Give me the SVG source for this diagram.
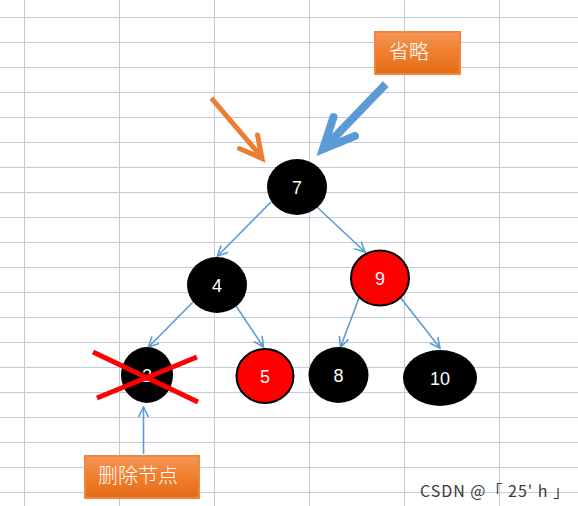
<svg xmlns="http://www.w3.org/2000/svg" width="578" height="506" viewBox="0 0 578 506">
<style>
.grid line{stroke:#c3cadb;stroke-width:1}
.lbl{font-family:"Liberation Sans",Carlito,"DejaVu Sans",sans-serif;font-size:18px;fill:#ffffff;text-anchor:middle}
.cjk{font-family:"Noto Sans CJK SC","Liberation Sans",sans-serif;font-size:20px;font-weight:300;fill:#ffffff}
.blk{fill:#000000}
.red{fill:#ff0000;stroke:#000000;stroke-width:2}
.conn line{stroke:#5b9bd5;stroke-width:1.6;fill:none;marker-end:url(#ah)}
.box{fill:url(#og);stroke:#f0853d;stroke-width:2}
</style>
<defs>
<marker id="ah" viewBox="0 0 12 12" refX="10.5" refY="6" markerWidth="12" markerHeight="12" markerUnits="userSpaceOnUse" orient="auto">
<path d="M0.5,1 L10.5,6 L0.5,11" fill="none" stroke="#5b9bd5" stroke-width="1.6"/>
</marker>
<linearGradient id="og" x1="0" y1="0" x2="0" y2="1">
<stop offset="0" stop-color="#f39558"/>
<stop offset="0.5" stop-color="#f07e2c"/>
<stop offset="1" stop-color="#e56b17"/>
</linearGradient>
</defs>
<rect width="578" height="506" fill="#ffffff"/>
<g class="grid">
<line x1="0" y1="17.5" x2="578" y2="17.5"/>
<line x1="0" y1="42.5" x2="578" y2="42.5"/>
<line x1="0" y1="67.5" x2="578" y2="67.5"/>
<line x1="0" y1="92.5" x2="578" y2="92.5"/>
<line x1="0" y1="117.5" x2="578" y2="117.5"/>
<line x1="0" y1="142.5" x2="578" y2="142.5"/>
<line x1="0" y1="167.5" x2="578" y2="167.5"/>
<line x1="0" y1="192.5" x2="578" y2="192.5"/>
<line x1="0" y1="217.5" x2="578" y2="217.5"/>
<line x1="0" y1="242.5" x2="578" y2="242.5"/>
<line x1="0" y1="267.5" x2="578" y2="267.5"/>
<line x1="0" y1="292.5" x2="578" y2="292.5"/>
<line x1="0" y1="317.5" x2="578" y2="317.5"/>
<line x1="0" y1="342.5" x2="578" y2="342.5"/>
<line x1="0" y1="367.5" x2="578" y2="367.5"/>
<line x1="0" y1="392.5" x2="578" y2="392.5"/>
<line x1="0" y1="417.5" x2="578" y2="417.5"/>
<line x1="0" y1="442.5" x2="578" y2="442.5"/>
<line x1="0" y1="467.5" x2="578" y2="467.5"/>
<line x1="0" y1="492.5" x2="578" y2="492.5"/>
<line x1="24.5" y1="0" x2="24.5" y2="506"/>
<line x1="119.5" y1="0" x2="119.5" y2="506"/>
<line x1="214.5" y1="0" x2="214.5" y2="506"/>
<line x1="309.5" y1="0" x2="309.5" y2="506"/>
<line x1="404.5" y1="0" x2="404.5" y2="506"/>
<line x1="499.5" y1="0" x2="499.5" y2="506"/>
</g>
<g class="conn">
<line x1="271" y1="202" x2="217.5" y2="256"/>
<line x1="317" y1="207" x2="365" y2="252"/>
<line x1="193" y1="302" x2="148.5" y2="347"/>
<line x1="236" y1="306" x2="263.5" y2="347"/>
<line x1="359" y1="298" x2="340.5" y2="347"/>
<line x1="400" y1="297" x2="440" y2="348"/>
<line x1="143.5" y1="454" x2="143.5" y2="407"/>
</g>
<g id="arrow-orange" fill="none" stroke="#ed7d31" stroke-width="5" stroke-linecap="round" stroke-linejoin="miter">
<line x1="213" y1="100" x2="259" y2="154" stroke-linecap="square"/>
<polyline points="239.5,148.5 262,158.5 257.5,135"/>
</g>
<g id="arrow-blue" fill="none" stroke="#5b9bd5" stroke-width="8" stroke-linecap="round" stroke-linejoin="miter">
<line x1="383" y1="87" x2="327" y2="145" stroke-linecap="square"/>
<polyline points="333.5,117 323,149 355,136"/>
</g>
<g id="n7"><ellipse class="blk" cx="297" cy="187" rx="30" ry="28"/><text class="lbl" x="297" y="194">7</text></g>
<g id="n4"><ellipse class="blk" cx="217" cy="285" rx="30" ry="28"/><text class="lbl" x="217" y="292">4</text></g>
<g id="n9"><ellipse class="red" cx="380" cy="278" rx="29" ry="27.5"/><text class="lbl" x="380" y="285">9</text></g>
<g id="n2"><ellipse class="blk" cx="147" cy="375" rx="26" ry="28"/><text class="lbl" x="147" y="382">2</text>
<g stroke="#ff0000" stroke-width="5"><line x1="93" y1="352" x2="198" y2="402"/><line x1="97" y1="398" x2="197" y2="357"/></g></g>
<g id="n5"><ellipse class="red" cx="265" cy="376" rx="28.5" ry="27"/><text class="lbl" x="265" y="383">5</text></g>
<g id="n8"><ellipse class="blk" cx="338.5" cy="375" rx="30" ry="28"/><text class="lbl" x="338.5" y="382">8</text></g>
<g id="n10"><ellipse class="blk" cx="440" cy="378" rx="37" ry="28"/><text class="lbl" x="440" y="385">10</text></g>
<g id="omit"><rect class="box" x="375" y="32" width="85" height="42"/><text class="cjk" x="389" y="59">省略</text></g>
<g id="delete"><rect class="box" x="85" y="456" width="114" height="42"/><text class="cjk" x="98" y="483">删除节点</text></g>
<text x="420" y="497" font-family="'Noto Sans CJK SC','Liberation Sans',sans-serif" font-size="16" fill="#3a3a3a" textLength="149" lengthAdjust="spacing">CSDN @「 25' h 」</text>
</svg>
